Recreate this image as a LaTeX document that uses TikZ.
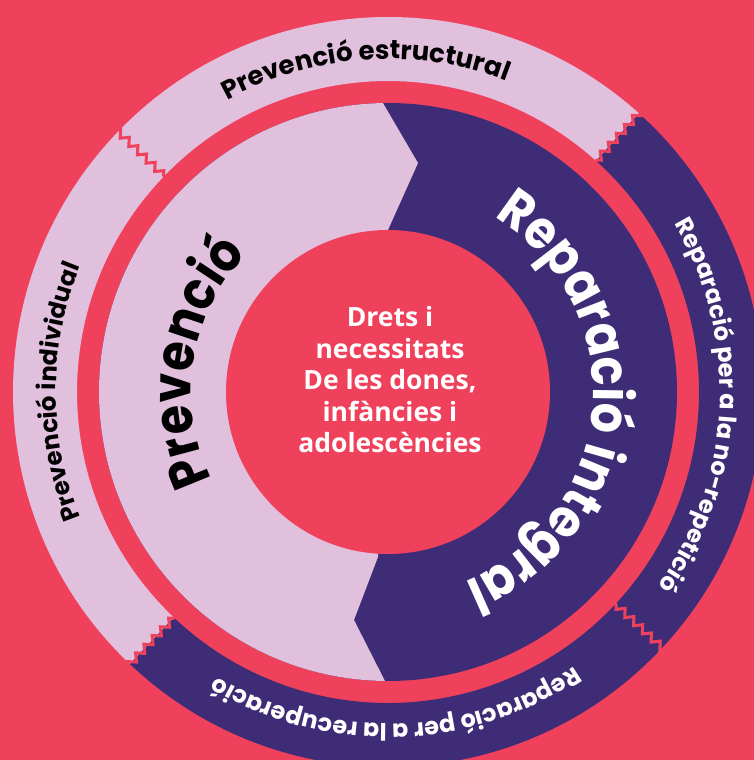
\documentclass[tikz,border=0pt]{standalone}
\usepackage{fontspec}
\setmainfont{Poppins}
\newfontfamily\bigfont{Poppins}[FakeStretch=0.88]
\newfontfamily\ctrfont{Open Sans}
\usetikzlibrary{decorations.text,decorations.pathmorphing}
\definecolor{bgred}{RGB}{239,65,92}
\definecolor{lilac}{RGB}{225,192,221}
\definecolor{deeppurple}{RGB}{62,45,118}
\begin{document}
\begin{tikzpicture}[x=1pt,y=1pt,
  sepline/.style={draw=bgred, line width=3pt, decorate,
    decoration={zigzag, segment length=12pt, amplitude=3.5pt}},
  centertext/.style={align=center, text=white,
    font=\ctrfont\bfseries\fontsize{26.5}{31.5}\selectfont}]
\useasboundingbox (-388,-368) rectangle (366,392);
\fill[bgred] (-388,-368) rectangle (366,392);
% outer ring
\fill[lilac] (48:375) arc[start angle=48, end angle=226.5, radius=375]
  -- (226.5:311) arc[start angle=226.5, end angle=48, radius=311] -- cycle;
\fill[deeppurple] (226.5:375) arc[start angle=226.5, end angle=408, radius=375]
  -- (408:311) arc[start angle=408, end angle=226.5, radius=311] -- cycle;
\draw[sepline] (136:378) -- (136:307);
\draw[sepline] (48:378) -- (48:307);
\draw[sepline] (-43:378) -- (-43:307);
\draw[sepline] (226.5:378) -- (226.5:307);
% inner disc
\fill[deeppurple] (0,0) circle[radius=289];
\fill[lilac] (91:289) arc[start angle=91, end angle=269.4, radius=289]
  -- (-34,-228) -- (-10,-165) -- (0,162) -- (30,229) -- cycle;
\fill[bgred] (0,0) circle[radius=162];
% texts
\path[decorate, decoration={text along path, text align=center,
  text={|\fontsize{26}{30}\selectfont\bfseries|Prevenció estructural}}]
  (139:333) arc[start angle=139, end angle=49, radius=333];
\path[decorate, decoration={text along path, text align=center,
  text={|\fontsize{24.5}{28}\selectfont\bfseries|Prevenció individual}}]
  (225:332) arc[start angle=225, end angle=135, radius=332];
\path[decorate, decoration={text along path, text align=center, text color=white,
  text={|\fontsize{24}{28}\selectfont\bfseries|Reparació per a la no-repetició}}]
  (42.4:332) arc[start angle=42.4, end angle=-47.6, radius=332];
\path[decorate, decoration={text along path, text align=center, text color=white,
  text={|\fontsize{24}{28}\selectfont\bfseries|Reparació per a la recuperació}}]
  (-43.4:332) arc[start angle=-43.4, end angle=-133.4, radius=332];
\path[decorate, decoration={text along path, text align=center,
  text={|\bigfont\fontsize{54}{60}\selectfont\bfseries|Prevenció}}]
  (251:197) arc[start angle=251, end angle=91, radius=197];
\path[decorate, decoration={text along path, text align=center, text color=white,
  text={|\bigfont\fontsize{54}{60}\selectfont\bfseries|Reparació integral}}]
  (85.4:205) arc[start angle=85.4, end angle=-94.6, radius=205];
\node[centertext] (ctr) at (2,12) {Drets i\\necessitats\\De les dones,\\infàncies i\\adolescències};
\end{tikzpicture}
\end{document}
